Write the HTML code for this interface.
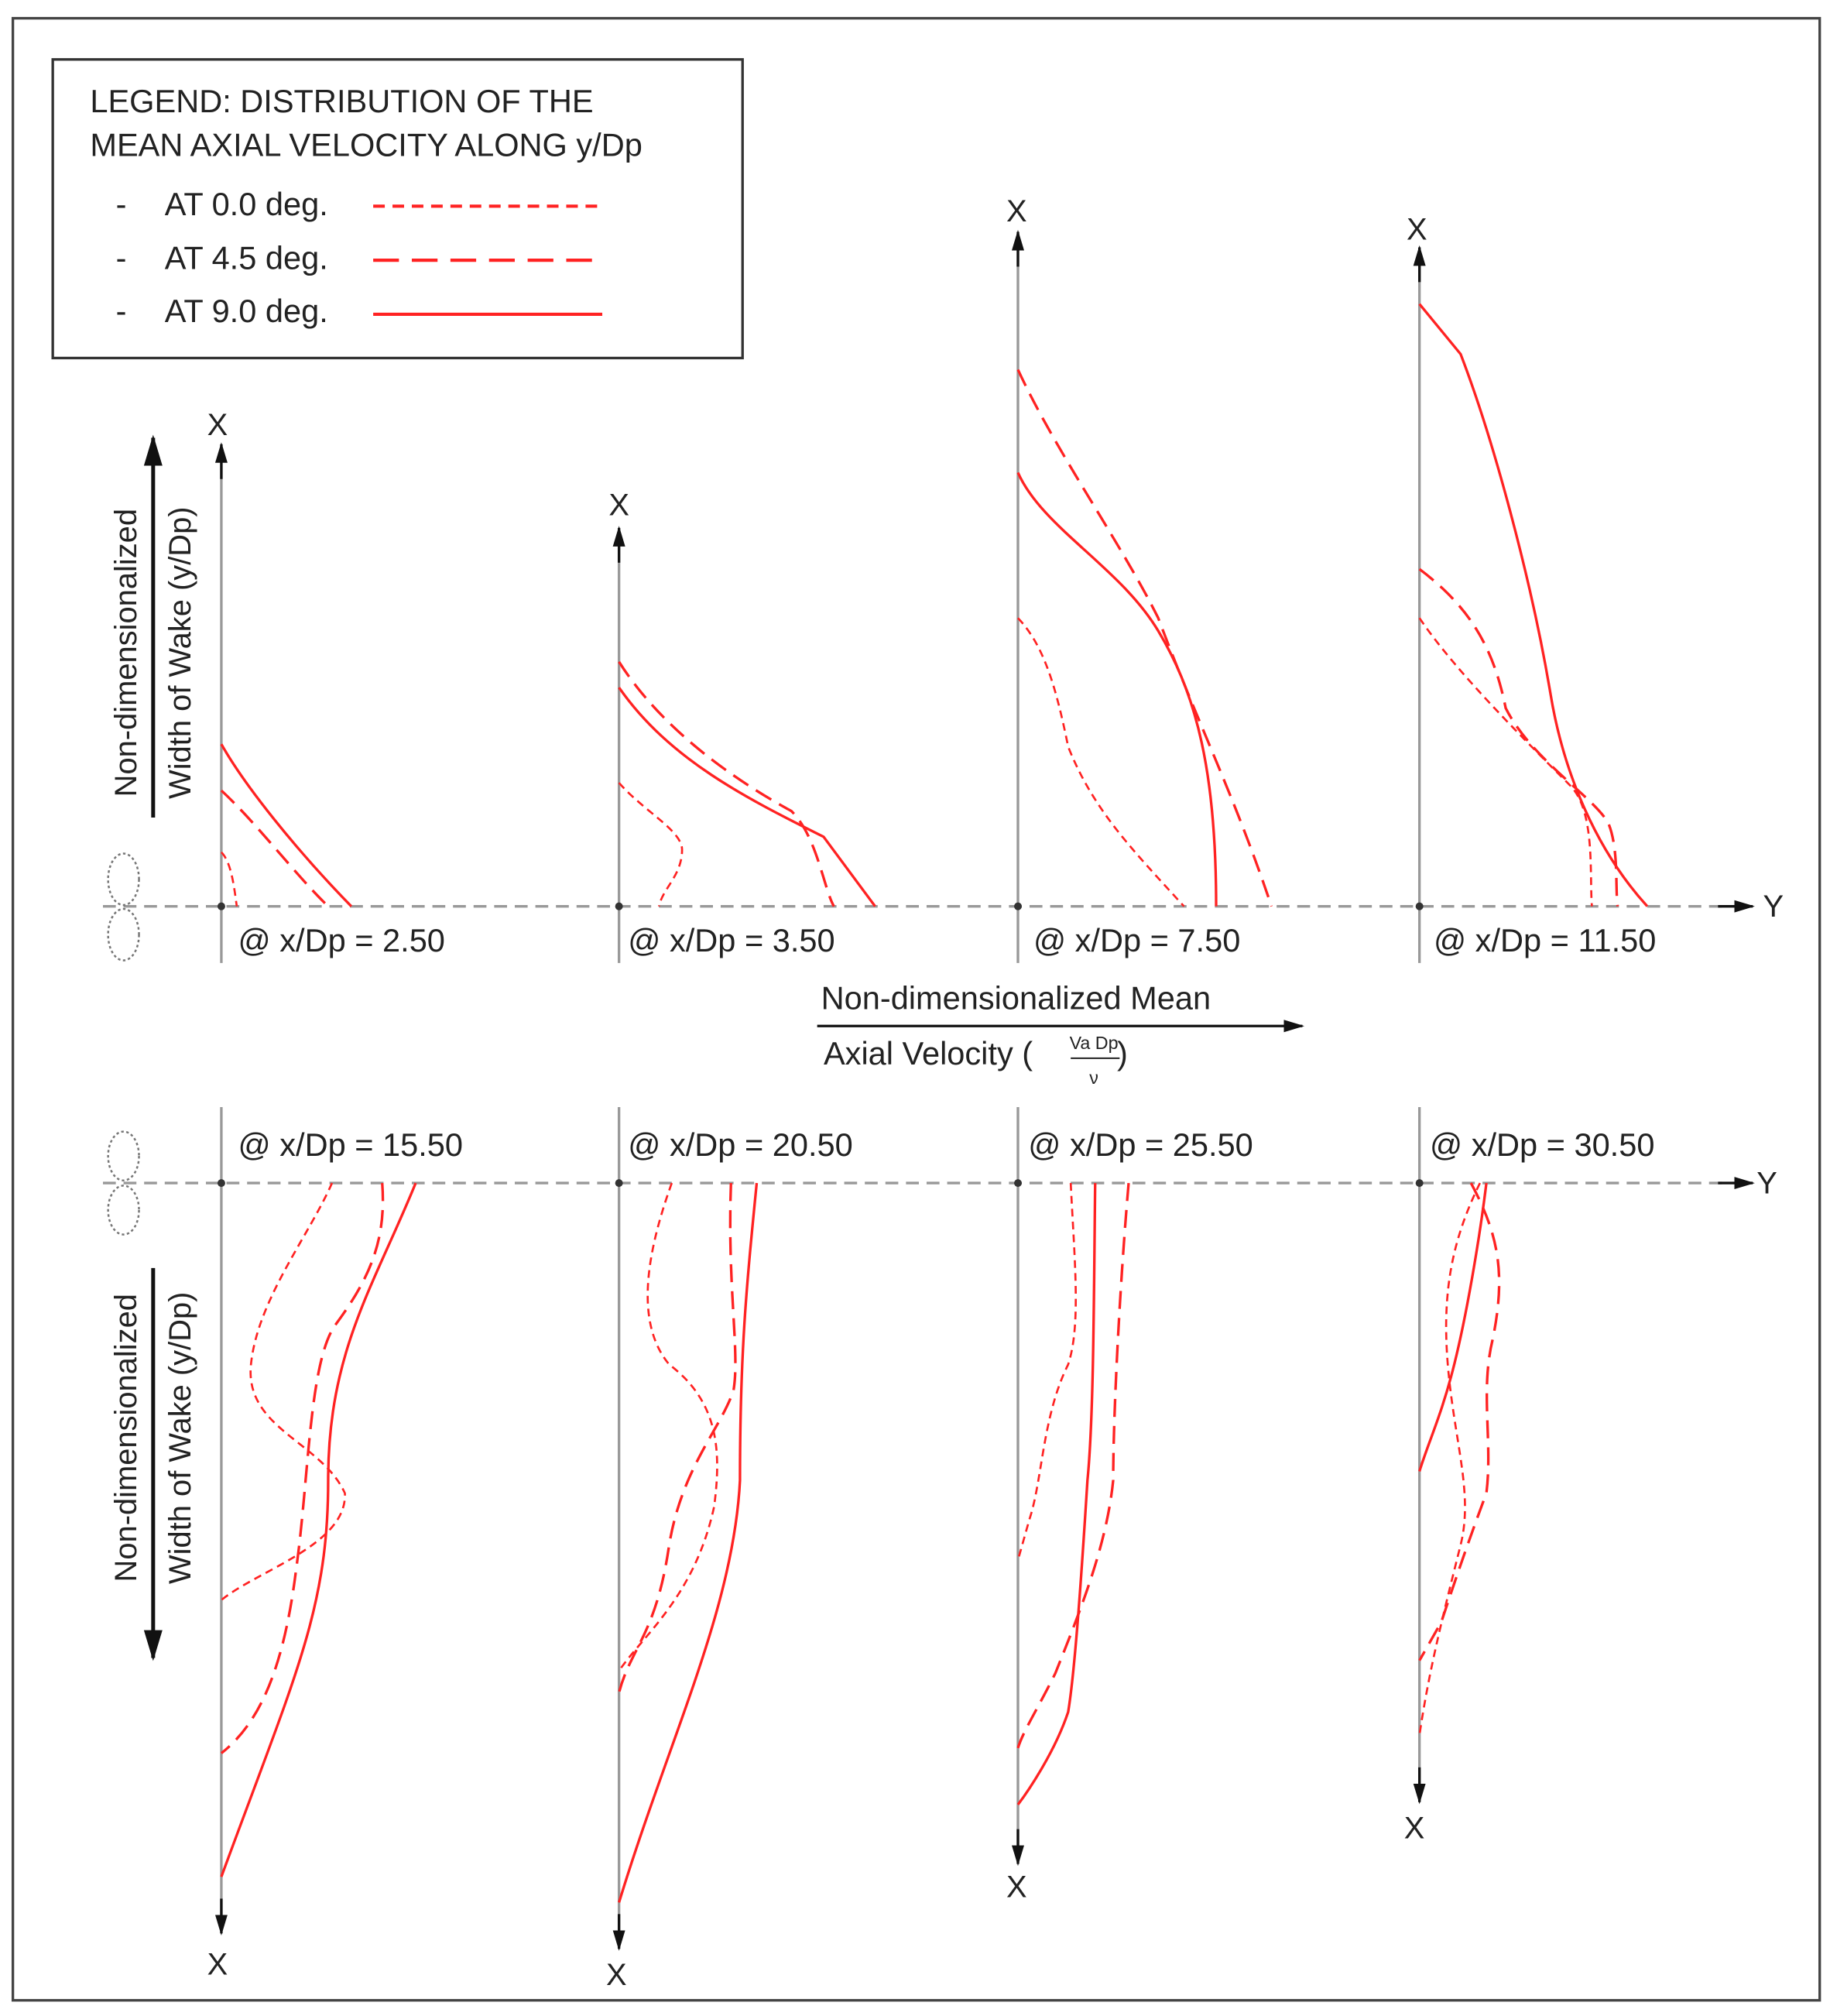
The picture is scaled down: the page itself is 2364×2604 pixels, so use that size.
<!DOCTYPE html>
<html><head><meta charset="utf-8"><style>html,body{margin:0;padding:0;background:#fff}svg{display:block}</style></head><body>
<svg width="2364" height="2604" viewBox="0 0 1422 1566" xmlns="http://www.w3.org/2000/svg" font-family="Liberation Sans, sans-serif">
<rect x="0" y="0" width="1422" height="1566" fill="#fff"/>
<rect x="10" y="14" width="1404" height="1540" fill="none" stroke="#444" stroke-width="2"/>
<rect x="41" y="46" width="536" height="232" fill="none" stroke="#333" stroke-width="2"/>
<g font-size="25" fill="#222">
<text x="70" y="87">LEGEND: DISTRIBUTION OF THE</text>
<text x="70" y="121">MEAN AXIAL VELOCITY ALONG y/Dp</text>
<text x="90" y="167">-</text><text x="128" y="167">AT 0.0 deg.</text>
<text x="90" y="209">-</text><text x="128" y="209">AT 4.5 deg.</text>
<text x="90" y="250">-</text><text x="128" y="250">AT 9.0 deg.</text>
</g>
<g stroke="#f22" fill="none">
<line x1="290" y1="160" x2="470" y2="160" stroke-width="2.5" stroke-dasharray="9 6"/>
<line x1="290" y1="202" x2="470" y2="202" stroke-width="2.5" stroke-dasharray="20 10"/>
<line x1="290" y1="244" x2="468" y2="244" stroke-width="2.5"/>
</g>
<defs><marker id="ar" viewBox="0 0 10 10" refX="9" refY="5" markerWidth="8" markerHeight="8" orient="auto-start-reverse"><path d="M0,2 L10,5 L0,8 z" fill="#111"/></marker>
<marker id="ab" viewBox="0 0 10 10" refX="9" refY="5" markerWidth="5" markerHeight="5" orient="auto-start-reverse"><path d="M0,1 L10,5 L0,9 z" fill="#111"/></marker></defs>
<!-- baselines -->
<g stroke="#999" stroke-width="2" stroke-dasharray="10 6">
<line x1="80" y1="704" x2="1340" y2="704"/><line x1="80" y1="919" x2="1340" y2="919"/></g>
<g stroke="#111" stroke-width="2"><line x1="1335" y1="704" x2="1362" y2="704" marker-end="url(#ar)"/><line x1="1335" y1="919" x2="1362" y2="919" marker-end="url(#ar)"/></g>
<!-- vertical axes -->
<g stroke="#999" stroke-width="2">
<line x1="172" y1="748" x2="172" y2="355"/><line x1="481" y1="748" x2="481" y2="420"/><line x1="791" y1="748" x2="791" y2="190"/><line x1="1103" y1="748" x2="1103" y2="202"/>
<line x1="172" y1="860" x2="172" y2="1490"/><line x1="481" y1="860" x2="481" y2="1502"/><line x1="791" y1="860" x2="791" y2="1436"/><line x1="1103" y1="860" x2="1103" y2="1388"/>
</g>
<g stroke="#111" stroke-width="2">
<line x1="172" y1="372" x2="172" y2="345" marker-end="url(#ar)"/><line x1="481" y1="437" x2="481" y2="410" marker-end="url(#ar)"/><line x1="791" y1="207" x2="791" y2="180" marker-end="url(#ar)"/><line x1="1103" y1="219" x2="1103" y2="192" marker-end="url(#ar)"/>
<line x1="172" y1="1475" x2="172" y2="1502" marker-end="url(#ar)"/><line x1="481" y1="1487" x2="481" y2="1514" marker-end="url(#ar)"/><line x1="791" y1="1421" x2="791" y2="1448" marker-end="url(#ar)"/><line x1="1103" y1="1373" x2="1103" y2="1400" marker-end="url(#ar)"/>
</g>
<g fill="#333"><circle cx="172" cy="704" r="3"/><circle cx="481" cy="704" r="3"/><circle cx="791" cy="704" r="3"/><circle cx="1103" cy="704" r="3"/>
<circle cx="172" cy="919" r="3"/><circle cx="481" cy="919" r="3"/><circle cx="791" cy="919" r="3"/><circle cx="1103" cy="919" r="3"/></g>
<g font-size="24" fill="#222" text-anchor="middle">
<text x="169" y="338">X</text><text x="481" y="400">X</text><text x="790" y="172">X</text><text x="1101" y="186">X</text>
<text x="169" y="1534">X</text><text x="479" y="1542">X</text><text x="790" y="1474">X</text><text x="1099" y="1428">X</text>
<text x="1378" y="712">Y</text><text x="1373" y="927">Y</text>
</g>
<g font-size="25" fill="#222">
<text x="185" y="739">@ x/Dp = 2.50</text><text x="488" y="739">@ x/Dp = 3.50</text><text x="803" y="739">@ x/Dp = 7.50</text><text x="1114" y="739">@ x/Dp = 11.50</text>
<text x="185" y="898">@ x/Dp = 15.50</text><text x="488" y="898">@ x/Dp = 20.50</text><text x="799" y="898">@ x/Dp = 25.50</text><text x="1111" y="898">@ x/Dp = 30.50</text>
<text x="638" y="784">Non-dimensionalized Mean</text>
<text x="640" y="827">Axial Velocity (</text><text x="868" y="827">)</text>
</g>
<g font-size="14" fill="#222" text-anchor="middle"><text x="850" y="815">Va Dp</text><text x="850" y="842">ν</text></g>
<line x1="832" y1="822" x2="870" y2="822" stroke="#222" stroke-width="1.2"/>
<line x1="635" y1="797" x2="1012" y2="797" stroke="#111" stroke-width="2" marker-end="url(#ar)"/>
<!-- left labels -->
<line x1="119" y1="635" x2="119" y2="340" stroke="#111" stroke-width="3" marker-end="url(#ar)"/>
<line x1="119" y1="985" x2="119" y2="1288" stroke="#111" stroke-width="3" marker-end="url(#ar)"/>
<g font-size="24" fill="#222" text-anchor="middle">
<text transform="translate(106,507) rotate(-90)">Non-dimensionalized</text>
<text transform="translate(148,507) rotate(-90)">Width of Wake (y/Dp)</text>
<text transform="translate(106,1117) rotate(-90)">Non-dimensionalized</text>
<text transform="translate(148,1117) rotate(-90)">Width of Wake (y/Dp)</text>
</g>
<!-- propeller icons -->
<g fill="none" stroke="#777" stroke-width="1.5" stroke-dasharray="2 2">
<ellipse cx="96" cy="683" rx="12" ry="20"/><ellipse cx="96" cy="726" rx="12" ry="20"/>
<ellipse cx="96" cy="898" rx="12" ry="19"/><ellipse cx="96" cy="940" rx="12" ry="19"/>
</g>
<!-- curves -->
<g fill="none" stroke="#f22">
<g stroke-width="2">
<path d="M172,578 C190,610 230,660 273,704"/>
<path d="M481,534 C520,590 580,620 640,650 L680,704"/>
<path d="M791,367 C810,410 870,440 900,490 C930,540 945,600 945,704"/>
<path d="M1103,236 L1135,275 C1160,340 1190,450 1205,540 C1215,600 1240,660 1280,704"/>
<path d="M323,919 C290,1000 255,1050 255,1150 C255,1250 230,1300 172,1458"/>
<path d="M588,919 C580,1000 575,1050 575,1150 C570,1250 520,1350 481,1478"/>
<path d="M851,919 C850,1000 850,1100 845,1150 C840,1230 835,1300 830,1330 C820,1360 800,1390 791,1402"/>
<path d="M1155,919 C1150,960 1140,1020 1130,1060 C1120,1100 1110,1120 1103,1143"/>
</g>
<g stroke-width="2" stroke-dasharray="14 7">
<path d="M172,614 C200,640 230,680 255,704"/>
<path d="M481,514 C510,560 560,600 615,630 C635,650 640,690 648,704"/>
<path d="M791,287 C820,350 870,420 900,480 C930,560 960,620 988,704"/>
<path d="M1103,442 C1140,470 1160,500 1170,550 C1190,590 1240,620 1250,640 C1258,660 1255,690 1257,704"/>
<path d="M297,919 C300,960 290,990 260,1030 C240,1060 240,1150 230,1220 C220,1300 200,1340 172,1362"/>
<path d="M568,919 C565,1000 575,1050 570,1080 C560,1110 530,1140 520,1200 C510,1270 490,1280 481,1315"/>
<path d="M877,919 C870,1000 865,1100 865,1150 C860,1200 840,1250 820,1300 C805,1330 795,1345 791,1358"/>
<path d="M1143,919 C1165,960 1170,990 1160,1040 C1150,1080 1160,1120 1155,1160 C1140,1200 1130,1230 1120,1260 L1103,1290"/>
</g>
<g stroke-width="1.6" stroke-dasharray="6 4">
<path d="M172,662 C180,670 182,690 184,704"/>
<path d="M481,608 C500,630 530,645 530,660 C530,680 515,690 512,704"/>
<path d="M791,480 C810,500 820,530 830,580 C850,630 880,660 920,704"/>
<path d="M1103,480 C1130,520 1180,570 1220,610 C1240,630 1235,680 1237,704"/>
<path d="M258,919 C240,960 200,1010 195,1060 C190,1110 250,1120 268,1160 C270,1200 200,1220 172,1243"/>
<path d="M522,919 C500,980 495,1030 520,1060 C560,1090 560,1130 555,1170 C540,1240 500,1270 481,1298"/>
<path d="M832,919 C835,980 840,1030 830,1060 C810,1100 810,1150 800,1180 L791,1212"/>
<path d="M1150,919 C1130,960 1120,1000 1125,1060 C1130,1120 1145,1160 1135,1200 C1120,1260 1110,1300 1103,1348"/>
</g>
</g>
</svg>
</body></html>
